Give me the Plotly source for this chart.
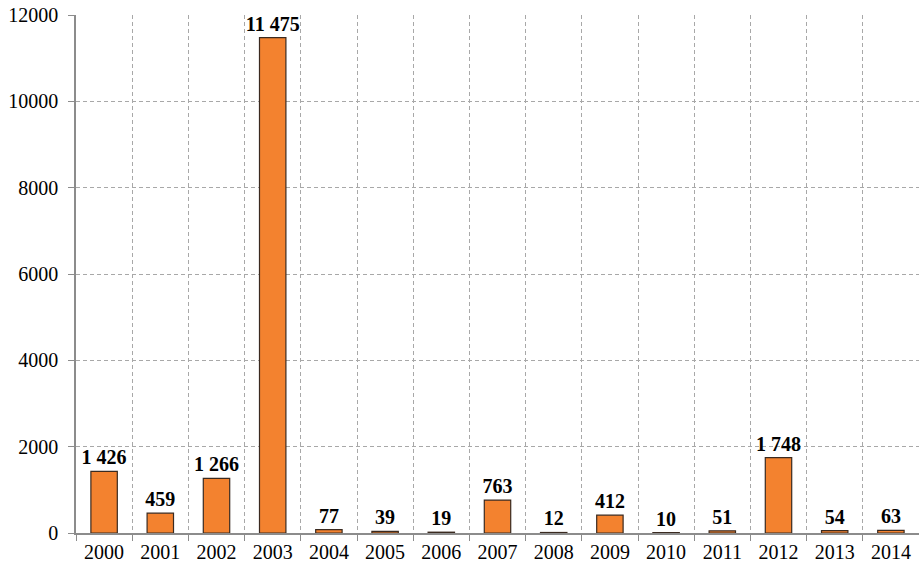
import plotly.graph_objects as go

years = ["2000", "2001", "2002", "2003", "2004", "2005", "2006", "2007",
         "2008", "2009", "2010", "2011", "2012", "2013", "2014"]
values = [1426, 459, 1266, 11475, 77, 39, 19, 763, 12, 412, 10, 51, 1748, 54, 63]
y_ticks = [0, 2000, 4000, 6000, 8000, 10000, 12000]

labels = [f"{v:,}".replace(",", " ") for v in values]

fig = go.Figure(go.Bar(
    x=years, y=values, text=labels, textposition="outside",
    constraintext="none",
    textfont=dict(family="Liberation Serif", size=20, color="black", weight="bold"),
    cliponaxis=False,
    marker=dict(color="#F3822F", line=dict(color="#3a2a20", width=1.2)),
    width=0.47,
))

fig.update_layout(
    width=919, height=570,
    margin=dict(l=76, r=0, t=15, b=37),
    plot_bgcolor="white", paper_bgcolor="white",
    showlegend=False,
    font=dict(family="Liberation Serif", size=20, color="black"),
)
fig.update_yaxes(
    range=[0, 12000], tickvals=y_ticks, ticktext=[str(t) for t in y_ticks],
    automargin=False, ticklabelstandoff=6,
    showline=True, linecolor="#8c8c8c", linewidth=1.5,
    ticks="outside", ticklen=6, tickcolor="#8c8c8c",
    showgrid=True, gridcolor="#a8a8a8", griddash="4px,3px", gridwidth=1,
    zeroline=False,
)
fig.update_xaxes(
    type="category", tickson="boundaries", automargin=False,
    showline=True, linecolor="#8c8c8c", linewidth=1.5,
    ticks="outside", ticklen=6, tickcolor="#8c8c8c",
    showgrid=True, gridcolor="#a8a8a8", griddash="4px,3px", gridwidth=1,
)

fig.write_html(
    "out.html",
    config={"displayModeBar": False},
    post_script="document.body.style.margin='0';document.body.style.overflow='hidden';",
)
